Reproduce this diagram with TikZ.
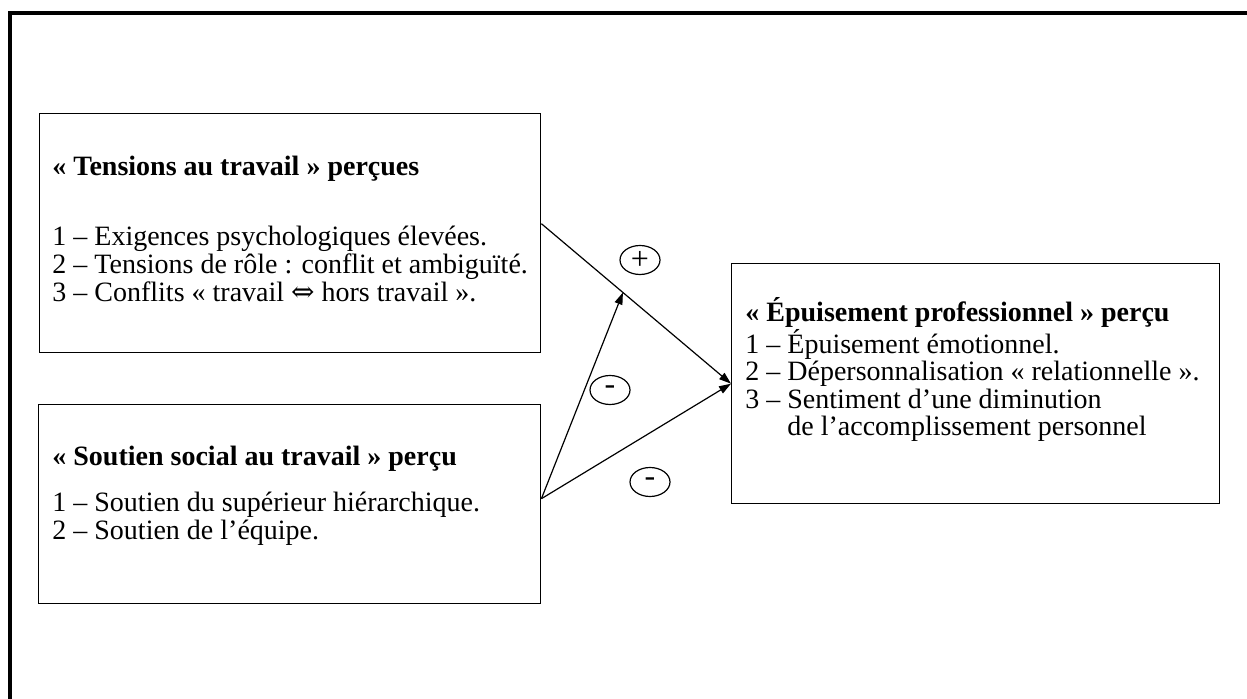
\documentclass[tikz,border=0pt]{standalone}
\usepackage{fontspec}
\setmainfont{Liberation Serif}
\newfontfamily\symfont{DejaVu Serif}
\usetikzlibrary{positioning, arrows.meta, shapes.geometric}

\begin{document}
\begin{tikzpicture}[
		x=0.5pt, y=-0.5pt,
		frame/.style={rectangle, draw, line width=0.7pt, inner sep=0pt, anchor=north west},
		boxtext/.style={anchor=north west, inner sep=0pt, align=left,
			font=\fontsize{14}{13.7}\selectfont},
		sign/.style={ellipse, draw, line width=0.6pt, minimum width=20pt,
			minimum height=14.5pt, inner sep=0pt, font=\fontsize{16}{16}\selectfont},
		arrow/.style={-{Triangle[length=6pt, width=4pt]}, line width=0.6pt},
		]
		\useasboundingbox (0,0) rectangle (1247,699);
		
		% outer frame
		\draw[line width=2pt] (10,13) rectangle (1270,730);
		
		% Tensions (top left)
		\node[frame, minimum width=250.5pt, minimum height=119.5pt] (tens) at (39,113) {};
		\node[boxtext, font=\fontsize{14}{14}\selectfont] (tensText) at (52,156)
		{\textbf{«~Tensions au travail~» perçues}\\[21pt]
			1 – Exigences psychologiques élevées.\\
			2 – Tensions de rôle : conflit et ambiguïté.\\
			3 – Conflits «~travail {\symfont ⇔} hors travail~».};
		
		% Soutien (bottom left)
		\node[frame, minimum width=251pt, minimum height=99.5pt] (sout) at (38,404) {};
		\node[boxtext] (soutText) at (52,446)
		{\textbf{«~Soutien social au travail~» perçu}\\[9.3pt]
			1 – Soutien du supérieur hiérarchique.\\
			2 – Soutien de l’équipe.};
		
		% Epuisement (right)
		\node[frame, minimum width=244pt, minimum height=120pt] (epui) at (731,263) {};
		\node[boxtext] (epuiText) at (745,297)
		{\textbf{«~Épuisement professionnel~» perçu}\\
			1 – Épuisement émotionnel.\\
			2 – Dépersonnalisation «~relationnelle~».\\
			3 – Sentiment d’une diminution\\
			\hphantom{3 – }de l’accomplissement personnel};
		
		% arrows
		\draw[arrow] ([yshift=4.75pt]tens.east) -- coordinate[pos=0.43] (join) (epui.west);
		\draw[arrow] ([yshift=2.75pt]sout.east) -- (epui.west);
		\draw[arrow] ([yshift=2.75pt]sout.east) -- (join);
		
		% signs
		\node[sign] (plus) at (640,260) {+};
		\node[sign] (minusA) at (610,390) {-};
		\node[sign] (minusB) at (650,482) {-};
	\end{tikzpicture}
\end{document}
